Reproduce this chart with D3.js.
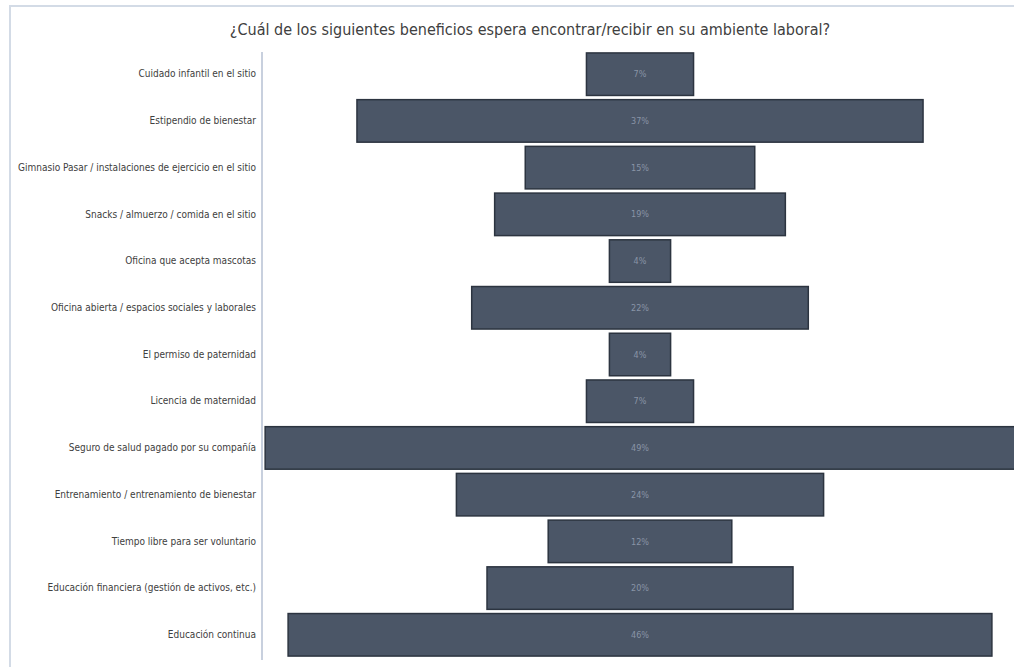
<!DOCTYPE html>
<html>
<head>
<meta charset="utf-8">
<script src="https://cdn.jsdelivr.net/npm/d3@7"></script>
<style>
  body { margin: 0; background: #fff; }
  text { font-family: "Liberation Sans Narrow", "DejaVu Sans Condensed", sans-serif; }
</style>
</head>
<body>
<div id="chart"></div>
<script>
const categories = [
  "Cuidado infantil en el sitio",
  "Estipendio de bienestar",
  "Gimnasio Pasar / instalaciones de ejercicio en el sitio",
  "Snacks / almuerzo / comida en el sitio",
  "Oficina que acepta mascotas",
  "Oficina abierta / espacios sociales y laborales",
  "El permiso de paternidad",
  "Licencia de maternidad",
  "Seguro de salud pagado por su compañía",
  "Entrenamiento / entrenamiento de bienestar",
  "Tiempo libre para ser voluntario",
  "Educación financiera (gestión de activos, etc.)",
  "Educación continua"
];
const values = [7, 37, 15, 19, 4, 22, 4, 7, 49, 24, 12, 20, 46];
const title = "¿Cuál de los siguientes beneficios espera encontrar/recibir en su ambiente laboral?";

const WIDTH = 1014, HEIGHT = 667;
const CENTER = 640;

const svg = d3.select("#chart").append("svg")
  .attr("width", WIDTH)
  .attr("height", HEIGHT);

// frame
svg.append("path")
  .attr("d", `M10,${HEIGHT} V6 H${WIDTH}`)
  .attr("fill", "none")
  .attr("stroke", "#d3dbe6")
  .attr("stroke-width", 2);

svg.append("text")
  .attr("x", 530)
  .attr("y", 35)
  .attr("text-anchor", "middle")
  .attr("font-size", 16)
  .attr("fill", "#404040")
  .text(title);

const data = categories.map((c, i) => ({ name: c, value: values[i] }));

const yScale = d3.scaleBand()
  .domain(categories)
  .range([52, 657])
  .paddingInner(0.09)
  .paddingOuter(0.02);

// half-width scale, centred funnel
const wScale = d3.scaleLinear()
  .domain([0, 50])
  .range([0, 765]);

// axis line
svg.append("line")
  .attr("x1", 262).attr("x2", 262)
  .attr("y1", 52).attr("y2", 660)
  .attr("stroke", "#c8d0de")
  .attr("stroke-width", 2);

const yAxis = svg.append("g")
  .attr("transform", "translate(262,0)")
  .call(d3.axisLeft(yScale).tickSize(0).tickPadding(6));
yAxis.select(".domain").remove();
yAxis.selectAll("text")
  .attr("font-size", 10)
  .attr("fill", "#404040");

svg.selectAll(".bar")
  .data(data)
  .enter()
  .append("rect")
  .attr("class", "bar")
  .attr("x", d => CENTER - wScale(d.value) / 2)
  .attr("y", d => yScale(d.name))
  .attr("width", d => wScale(d.value))
  .attr("height", yScale.bandwidth())
  .attr("fill", "#4b5667")
  .attr("stroke", "#2c3440")
  .attr("stroke-width", 1.5);

svg.selectAll(".lbl")
  .data(data)
  .enter()
  .append("text")
  .attr("class", "lbl")
  .attr("x", CENTER)
  .attr("y", d => yScale(d.name) + yScale.bandwidth() / 2)
  .attr("dy", "0.35em")
  .attr("text-anchor", "middle")
  .attr("font-size", 9)
  .attr("fill", "#8994a6")
  .text(d => d.value + "%");
</script>
</body>
</html>
